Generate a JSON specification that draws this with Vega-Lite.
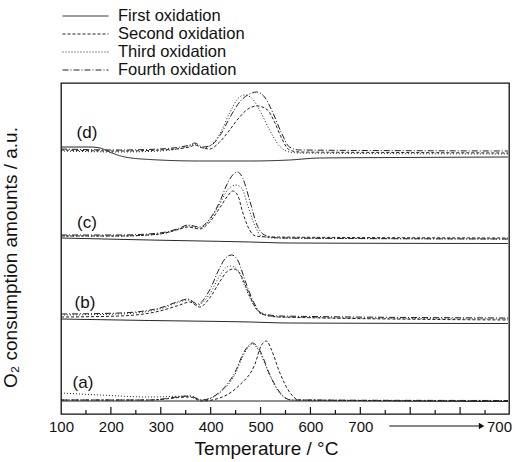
{
  "$schema": "https://vega.github.io/schema/vega-lite/v6.json",
  "width": 448,
  "height": 331,
  "autosize": {"type": "none"},
  "padding": {"left": 61, "top": 83, "right": 23, "bottom": 48},
  "background": "white",
  "config": {
    "view": {"stroke": "#111", "strokeWidth": 1.3},
    "font": "Liberation Sans",
    "axis": {"grid": false, "titleFontWeight": "normal", "labelFont": "Liberation Sans", "titleFont": "Liberation Sans"},
    "legend": {"labelFont": "Liberation Sans"}
  },
  "datasets": {
    "curves": [
      {"p":"d","s":"First oxidation","T":100,"v":267},{"p":"d","s":"First oxidation","T":158,"v":267},{"p":"d","s":"First oxidation","T":178,"v":266},{"p":"d","s":"First oxidation","T":202,"v":261},{"p":"d","s":"First oxidation","T":228,"v":257},{"p":"d","s":"First oxidation","T":278,"v":254.5},{"p":"d","s":"First oxidation","T":378,"v":253},{"p":"d","s":"First oxidation","T":478,"v":253},{"p":"d","s":"First oxidation","T":558,"v":254},{"p":"d","s":"First oxidation","T":618,"v":256},{"p":"d","s":"First oxidation","T":778,"v":256.5},{"p":"d","s":"First oxidation","T":996,"v":257},
      {"p":"d","s":"Second oxidation","T":100,"v":264},{"p":"d","s":"Second oxidation","T":218,"v":263},{"p":"d","s":"Second oxidation","T":298,"v":264},{"p":"d","s":"Second oxidation","T":358,"v":267},{"p":"d","s":"Second oxidation","T":368,"v":269},{"p":"d","s":"Second oxidation","T":384,"v":266},{"p":"d","s":"Second oxidation","T":398,"v":265},{"p":"d","s":"Second oxidation","T":418,"v":272},{"p":"d","s":"Second oxidation","T":438,"v":284},{"p":"d","s":"Second oxidation","T":458,"v":297},{"p":"d","s":"Second oxidation","T":478,"v":306},{"p":"d","s":"Second oxidation","T":494,"v":308},{"p":"d","s":"Second oxidation","T":514,"v":304},{"p":"d","s":"Second oxidation","T":528,"v":292},{"p":"d","s":"Second oxidation","T":542,"v":276},{"p":"d","s":"Second oxidation","T":558,"v":264},{"p":"d","s":"Second oxidation","T":578,"v":262},{"p":"d","s":"Second oxidation","T":778,"v":261.5},{"p":"d","s":"Second oxidation","T":996,"v":261},
      {"p":"d","s":"Third oxidation","T":100,"v":263},{"p":"d","s":"Third oxidation","T":218,"v":262},{"p":"d","s":"Third oxidation","T":298,"v":263},{"p":"d","s":"Third oxidation","T":358,"v":268},{"p":"d","s":"Third oxidation","T":368,"v":270},{"p":"d","s":"Third oxidation","T":384,"v":266},{"p":"d","s":"Third oxidation","T":398,"v":268},{"p":"d","s":"Third oxidation","T":418,"v":280},{"p":"d","s":"Third oxidation","T":438,"v":301},{"p":"d","s":"Third oxidation","T":454,"v":315},{"p":"d","s":"Third oxidation","T":468,"v":319},{"p":"d","s":"Third oxidation","T":482,"v":316},{"p":"d","s":"Third oxidation","T":498,"v":304},{"p":"d","s":"Third oxidation","T":518,"v":284},{"p":"d","s":"Third oxidation","T":538,"v":268},{"p":"d","s":"Third oxidation","T":558,"v":262},{"p":"d","s":"Third oxidation","T":578,"v":261},{"p":"d","s":"Third oxidation","T":996,"v":260},
      {"p":"d","s":"Fourth oxidation","T":100,"v":265},{"p":"d","s":"Fourth oxidation","T":218,"v":264},{"p":"d","s":"Fourth oxidation","T":298,"v":265},{"p":"d","s":"Fourth oxidation","T":358,"v":269},{"p":"d","s":"Fourth oxidation","T":368,"v":271},{"p":"d","s":"Fourth oxidation","T":384,"v":267},{"p":"d","s":"Fourth oxidation","T":398,"v":268},{"p":"d","s":"Fourth oxidation","T":418,"v":278},{"p":"d","s":"Fourth oxidation","T":438,"v":296},{"p":"d","s":"Fourth oxidation","T":458,"v":312},{"p":"d","s":"Fourth oxidation","T":478,"v":320},{"p":"d","s":"Fourth oxidation","T":492,"v":322},{"p":"d","s":"Fourth oxidation","T":508,"v":317},{"p":"d","s":"Fourth oxidation","T":524,"v":302},{"p":"d","s":"Fourth oxidation","T":542,"v":281},{"p":"d","s":"Fourth oxidation","T":558,"v":267},{"p":"d","s":"Fourth oxidation","T":578,"v":264},{"p":"d","s":"Fourth oxidation","T":996,"v":263},

      {"p":"c","s":"First oxidation","T":100,"v":176},{"p":"c","s":"First oxidation","T":278,"v":174},{"p":"c","s":"First oxidation","T":478,"v":172},{"p":"c","s":"First oxidation","T":558,"v":171},{"p":"c","s":"First oxidation","T":996,"v":170.5},
      {"p":"c","s":"Second oxidation","T":100,"v":178},{"p":"c","s":"Second oxidation","T":218,"v":178},{"p":"c","s":"Second oxidation","T":298,"v":180},{"p":"c","s":"Second oxidation","T":338,"v":185},{"p":"c","s":"Second oxidation","T":354,"v":187},{"p":"c","s":"Second oxidation","T":378,"v":185},{"p":"c","s":"Second oxidation","T":398,"v":192},{"p":"c","s":"Second oxidation","T":418,"v":206},{"p":"c","s":"Second oxidation","T":434,"v":218},{"p":"c","s":"Second oxidation","T":444,"v":223},{"p":"c","s":"Second oxidation","T":454,"v":219},{"p":"c","s":"Second oxidation","T":464,"v":202},{"p":"c","s":"Second oxidation","T":478,"v":184},{"p":"c","s":"Second oxidation","T":490,"v":178},{"p":"c","s":"Second oxidation","T":518,"v":177},{"p":"c","s":"Second oxidation","T":996,"v":176},
      {"p":"c","s":"Third oxidation","T":100,"v":178},{"p":"c","s":"Third oxidation","T":218,"v":178},{"p":"c","s":"Third oxidation","T":298,"v":180},{"p":"c","s":"Third oxidation","T":338,"v":185},{"p":"c","s":"Third oxidation","T":354,"v":188},{"p":"c","s":"Third oxidation","T":378,"v":186},{"p":"c","s":"Third oxidation","T":398,"v":194},{"p":"c","s":"Third oxidation","T":418,"v":210},{"p":"c","s":"Third oxidation","T":434,"v":224},{"p":"c","s":"Third oxidation","T":450,"v":229},{"p":"c","s":"Third oxidation","T":462,"v":226},{"p":"c","s":"Third oxidation","T":474,"v":209},{"p":"c","s":"Third oxidation","T":488,"v":189},{"p":"c","s":"Third oxidation","T":502,"v":178},{"p":"c","s":"Third oxidation","T":528,"v":176},{"p":"c","s":"Third oxidation","T":996,"v":175},
      {"p":"c","s":"Fourth oxidation","T":100,"v":179},{"p":"c","s":"Fourth oxidation","T":218,"v":179},{"p":"c","s":"Fourth oxidation","T":298,"v":181},{"p":"c","s":"Fourth oxidation","T":338,"v":186},{"p":"c","s":"Fourth oxidation","T":354,"v":189},{"p":"c","s":"Fourth oxidation","T":378,"v":187},{"p":"c","s":"Fourth oxidation","T":398,"v":195},{"p":"c","s":"Fourth oxidation","T":418,"v":212},{"p":"c","s":"Fourth oxidation","T":434,"v":231},{"p":"c","s":"Fourth oxidation","T":444,"v":239},{"p":"c","s":"Fourth oxidation","T":454,"v":242},{"p":"c","s":"Fourth oxidation","T":464,"v":236},{"p":"c","s":"Fourth oxidation","T":478,"v":214},{"p":"c","s":"Fourth oxidation","T":492,"v":190},{"p":"c","s":"Fourth oxidation","T":508,"v":179},{"p":"c","s":"Fourth oxidation","T":538,"v":176},{"p":"c","s":"Fourth oxidation","T":996,"v":175},

      {"p":"b","s":"First oxidation","T":100,"v":95},{"p":"b","s":"First oxidation","T":278,"v":93.5},{"p":"b","s":"First oxidation","T":478,"v":92},{"p":"b","s":"First oxidation","T":558,"v":91},{"p":"b","s":"First oxidation","T":996,"v":90.5},
      {"p":"b","s":"Second oxidation","T":100,"v":97},{"p":"b","s":"Second oxidation","T":218,"v":98},{"p":"b","s":"Second oxidation","T":298,"v":103},{"p":"b","s":"Second oxidation","T":338,"v":109},{"p":"b","s":"Second oxidation","T":358,"v":112},{"p":"b","s":"Second oxidation","T":378,"v":107},{"p":"b","s":"Second oxidation","T":398,"v":116},{"p":"b","s":"Second oxidation","T":418,"v":132},{"p":"b","s":"Second oxidation","T":434,"v":143},{"p":"b","s":"Second oxidation","T":446,"v":145},{"p":"b","s":"Second oxidation","T":458,"v":141},{"p":"b","s":"Second oxidation","T":472,"v":126},{"p":"b","s":"Second oxidation","T":488,"v":108},{"p":"b","s":"Second oxidation","T":502,"v":100},{"p":"b","s":"Second oxidation","T":538,"v":97},{"p":"b","s":"Second oxidation","T":996,"v":94},
      {"p":"b","s":"Third oxidation","T":100,"v":99},{"p":"b","s":"Third oxidation","T":218,"v":100},{"p":"b","s":"Third oxidation","T":298,"v":105},{"p":"b","s":"Third oxidation","T":338,"v":112},{"p":"b","s":"Third oxidation","T":354,"v":114},{"p":"b","s":"Third oxidation","T":374,"v":109},{"p":"b","s":"Third oxidation","T":398,"v":120},{"p":"b","s":"Third oxidation","T":418,"v":138},{"p":"b","s":"Third oxidation","T":430,"v":146},{"p":"b","s":"Third oxidation","T":440,"v":148},{"p":"b","s":"Third oxidation","T":454,"v":144},{"p":"b","s":"Third oxidation","T":470,"v":126},{"p":"b","s":"Third oxidation","T":486,"v":109},{"p":"b","s":"Third oxidation","T":502,"v":100},{"p":"b","s":"Third oxidation","T":538,"v":97},{"p":"b","s":"Third oxidation","T":996,"v":95},
      {"p":"b","s":"Fourth oxidation","T":100,"v":100},{"p":"b","s":"Fourth oxidation","T":218,"v":101},{"p":"b","s":"Fourth oxidation","T":298,"v":106},{"p":"b","s":"Fourth oxidation","T":338,"v":113},{"p":"b","s":"Fourth oxidation","T":354,"v":115},{"p":"b","s":"Fourth oxidation","T":374,"v":110},{"p":"b","s":"Fourth oxidation","T":398,"v":124},{"p":"b","s":"Fourth oxidation","T":418,"v":146},{"p":"b","s":"Fourth oxidation","T":430,"v":156},{"p":"b","s":"Fourth oxidation","T":442,"v":159},{"p":"b","s":"Fourth oxidation","T":454,"v":154},{"p":"b","s":"Fourth oxidation","T":470,"v":132},{"p":"b","s":"Fourth oxidation","T":486,"v":112},{"p":"b","s":"Fourth oxidation","T":502,"v":101},{"p":"b","s":"Fourth oxidation","T":538,"v":98},{"p":"b","s":"Fourth oxidation","T":996,"v":96},

      {"p":"a","s":"First oxidation","T":100,"v":13},{"p":"a","s":"First oxidation","T":500,"v":13},{"p":"a","s":"First oxidation","T":996,"v":12.5},
      {"p":"a","s":"Second oxidation","T":100,"v":14},{"p":"a","s":"Second oxidation","T":278,"v":14},{"p":"a","s":"Second oxidation","T":358,"v":17},{"p":"a","s":"Second oxidation","T":382,"v":13},{"p":"a","s":"Second oxidation","T":418,"v":16},{"p":"a","s":"Second oxidation","T":458,"v":29},{"p":"a","s":"Second oxidation","T":488,"v":49},{"p":"a","s":"Second oxidation","T":502,"v":69},{"p":"a","s":"Second oxidation","T":512,"v":73},{"p":"a","s":"Second oxidation","T":522,"v":64},{"p":"a","s":"Second oxidation","T":538,"v":42},{"p":"a","s":"Second oxidation","T":558,"v":22},{"p":"a","s":"Second oxidation","T":578,"v":14},{"p":"a","s":"Second oxidation","T":996,"v":13},
      {"p":"a","s":"Third oxidation","T":100,"v":21},{"p":"a","s":"Third oxidation","T":178,"v":19},{"p":"a","s":"Third oxidation","T":278,"v":17},{"p":"a","s":"Third oxidation","T":358,"v":18},{"p":"a","s":"Third oxidation","T":382,"v":14},{"p":"a","s":"Third oxidation","T":418,"v":21},{"p":"a","s":"Third oxidation","T":448,"v":39},{"p":"a","s":"Third oxidation","T":468,"v":61},{"p":"a","s":"Third oxidation","T":484,"v":70},{"p":"a","s":"Third oxidation","T":498,"v":62},{"p":"a","s":"Third oxidation","T":518,"v":39},{"p":"a","s":"Third oxidation","T":538,"v":21},{"p":"a","s":"Third oxidation","T":562,"v":14},{"p":"a","s":"Third oxidation","T":996,"v":13},
      {"p":"a","s":"Fourth oxidation","T":100,"v":14},{"p":"a","s":"Fourth oxidation","T":278,"v":14},{"p":"a","s":"Fourth oxidation","T":358,"v":18},{"p":"a","s":"Fourth oxidation","T":382,"v":14},{"p":"a","s":"Fourth oxidation","T":418,"v":22},{"p":"a","s":"Fourth oxidation","T":448,"v":41},{"p":"a","s":"Fourth oxidation","T":468,"v":63},{"p":"a","s":"Fourth oxidation","T":484,"v":71},{"p":"a","s":"Fourth oxidation","T":498,"v":64},{"p":"a","s":"Fourth oxidation","T":518,"v":40},{"p":"a","s":"Fourth oxidation","T":538,"v":22},{"p":"a","s":"Fourth oxidation","T":562,"v":14},{"p":"a","s":"Fourth oxidation","T":996,"v":13.5}
    ],
    "panels": [
      {"T":152,"v":281,"label":"(d)"},
      {"T":152,"v":191,"label":"(c)"},
      {"T":148,"v":111,"label":"(b)"},
      {"T":144,"v":31,"label":"(a)"}
    ],
    "majorTicks": [{"T":200},{"T":300},{"T":400},{"T":500},{"T":600},{"T":700},{"T":800},{"T":900}],
    "minorTicks": [{"T":150},{"T":250},{"T":350},{"T":450},{"T":550},{"T":650},{"T":750},{"T":850},{"T":950}],
    "arrow": [{"T":758,"T2":940,"v":-12}],
    "arrowhead": [{"T":943,"v":-12}]
  },
  "layer": [
    {
      "data": {"name": "curves"},
      "mark": {"type": "line", "interpolate": "monotone", "stroke": "#222", "strokeWidth": 1},
      "encoding": {
        "x": {
          "field": "T", "type": "quantitative",
          "scale": {"domain": [100, 998], "nice": false, "zero": false},
          "axis": {
            "title": "Temperature / °C",
            "titleFontSize": 19,
            "titleColor": "#111",
            "titlePadding": 5,
            "titleX": 205,
            "values": [100,200,300,400,500,600,700,978],
            "format": "d",
            "labelExpr": "datum.value == 978 ? '700' : datum.label",
            "labelFontSize": 15,
            "labelColor": "#111",
            "labelPadding": 5,
            "labelFlush": false,
            "labelOverlap": false,
            "domain": false,
            "ticks": false
          }
        },
        "y": {
          "field": "v", "type": "quantitative",
          "scale": {"domain": [0, 331], "nice": false, "zero": false},
          "axis": {
            "title": "O₂ consumption amounts / a.u.",
            "titleFontSize": 19,
            "titleColor": "#111",
            "titlePadding": 41,
            "titleY": 174,
            "labels": false,
            "ticks": false,
            "domain": false
          }
        },
        "strokeDash": {
          "field": "s", "type": "nominal",
          "scale": {
            "domain": ["First oxidation", "Second oxidation", "Third oxidation", "Fourth oxidation"],
            "range": [[1, 0], [3, 2], [1, 2], [6, 2, 1, 2]]
          },
          "legend": {
            "title": null,
            "orient": "none",
            "legendX": 1,
            "legendY": -76,
            "symbolType": "stroke",
            "symbolSize": 2116,
            "symbolStrokeColor": "#222",
            "symbolStrokeWidth": 1,
            "clipHeight": 18,
            "rowPadding": 0,
            "padding": 0,
            "labelOffset": 9,
            "labelFontSize": 16.5,
            "labelColor": "#111",
            "labelLimit": 300
          }
        },
        "detail": {"field": "p", "type": "nominal"}
      }
    },
    {
      "data": {"name": "panels"},
      "mark": {"type": "text", "fontSize": 17, "color": "#111", "align": "center", "baseline": "middle"},
      "encoding": {
        "x": {"field": "T", "type": "quantitative"},
        "y": {"field": "v", "type": "quantitative"},
        "text": {"field": "label"}
      }
    },
    {
      "data": {"name": "majorTicks"},
      "mark": {"type": "rule", "color": "#111", "strokeWidth": 1.2},
      "encoding": {
        "x": {"field": "T", "type": "quantitative"},
        "y": {"datum": 0, "type": "quantitative"},
        "y2": {"datum": 7}
      }
    },
    {
      "data": {"name": "minorTicks"},
      "mark": {"type": "rule", "color": "#111", "strokeWidth": 1.2},
      "encoding": {
        "x": {"field": "T", "type": "quantitative"},
        "y": {"datum": 0, "type": "quantitative"},
        "y2": {"datum": 4}
      }
    },
    {
      "data": {"name": "arrow"},
      "mark": {"type": "rule", "color": "#111", "strokeWidth": 1},
      "encoding": {
        "x": {"field": "T", "type": "quantitative"},
        "x2": {"field": "T2"},
        "y": {"field": "v", "type": "quantitative"}
      }
    },
    {
      "data": {"name": "arrowhead"},
      "mark": {"type": "point", "shape": "triangle-right", "filled": true, "color": "#111", "size": 40, "opacity": 1},
      "encoding": {
        "x": {"field": "T", "type": "quantitative"},
        "y": {"field": "v", "type": "quantitative"}
      }
    }
  ]
}
